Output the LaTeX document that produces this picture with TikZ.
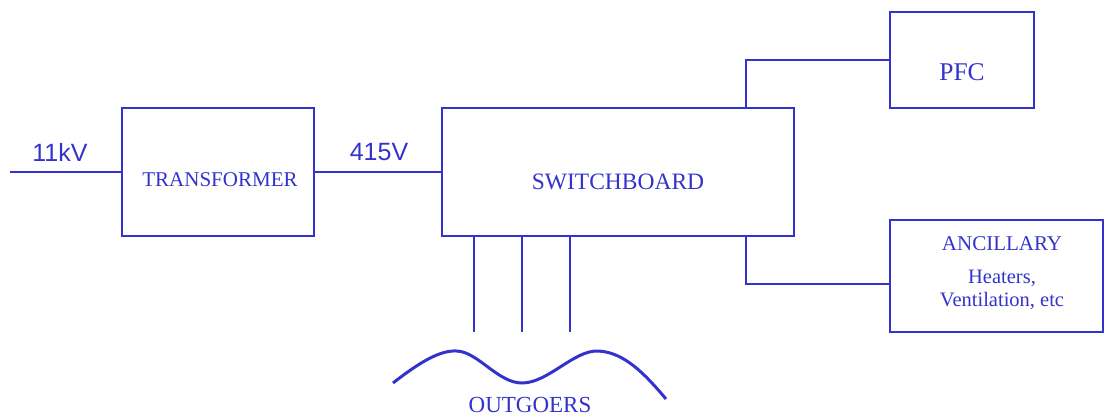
\documentclass[tikz,border=0pt]{standalone}
\usepackage{fontspec}
\setmainfont{Liberation Serif}
\newfontfamily\arialfont{Liberation Sans}
\definecolor{dblue}{RGB}{51,51,204}
\begin{document}
\begin{tikzpicture}[x=1pt,y=-1pt,
  box/.style={draw=dblue,line width=2pt,rectangle,inner sep=0pt,outer sep=0pt},
  lbl/.style={text=dblue,inner sep=0pt,font=\fontsize{21}{25}\selectfont},
  vlbl/.style={text=dblue,inner sep=0pt,font=\arialfont\fontsize{25}{28}\selectfont},
  wire/.style={draw=dblue,line width=2pt}]
\useasboundingbox (0,0) rectangle (1105,413);
% boxes
\node[box,minimum width=192pt,minimum height=128pt] (tr) at (218,172) {};
\node[box,minimum width=352pt,minimum height=128pt] (sw) at (618,172) {};
\node[box,minimum width=144pt,minimum height=96pt] (pfc) at (962,60) {};
\node[box,minimum width=213pt,minimum height=112pt] (anc) at (996.5,276) {};
% labels
\node[lbl] (trt) at (220,180) {TRANSFORMER};
\node[lbl,font=\fontsize{23.5}{27}\selectfont] (swt) at (618,182) {SWITCHBOARD};
\node[lbl,font=\fontsize{25.5}{29}\selectfont] (pfct) at (962,72) {PFC};
\node[lbl] (anct) at (1002,244) {ANCILLARY};
\node[lbl,font=\fontsize{20.5}{24}\selectfont,align=center] (anch) at (1002,290) {Heaters,\\[-1pt]Ventilation, etc};
\node[lbl,font=\fontsize{23}{27}\selectfont,anchor=base,text depth=0pt] (outt) at (530,412) {OUTGOERS};
% incoming
\coordinate (in) at (10,172);
\draw[wire] (in) -- (tr.west);
\draw[wire] (tr.east) -- (sw.west);
\node[vlbl] (kv) at (60,152) {11kV};
\node[vlbl] (lv) at (379,152) {415V};
% PFC and ancillary
\draw[wire] ([xshift=-48pt]sw.north east) |- (pfc.west);
\draw[wire] ([xshift=-48pt]sw.south east) |- ([yshift=-8pt]anc.west);
% outgoers
\coordinate (o1) at (474,332);
\coordinate (o2) at (522,332);
\coordinate (o3) at (570,332);
\draw[wire] (sw.south -| o1) -- (o1);
\draw[wire] (sw.south -| o2) -- (o2);
\draw[wire] (sw.south -| o3) -- (o3);
% wave
\coordinate (w0) at (393,383);
\coordinate (w1) at (457,351);
\coordinate (w2) at (522,383);
\coordinate (w3) at (598,351);
\coordinate (w4) at (666,399);
\draw[dblue,line width=3pt] (w0) .. controls (420,362) and (440,350) .. (w1)
  .. controls (478,352) and (498,383) .. (w2)
  .. controls (548,383) and (574,350) .. (w3)
  .. controls (624,352) and (645,374) .. (w4);
\end{tikzpicture}
\end{document}
